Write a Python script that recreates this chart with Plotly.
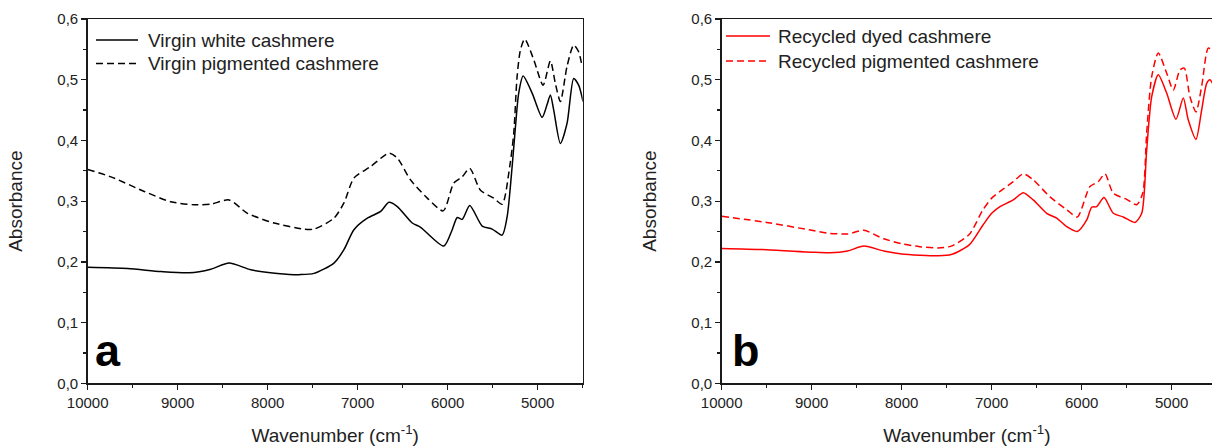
import plotly.graph_objects as go

# ---------------- data ----------------
# Panel a
a_white_x = [10000, 9556, 9187, 8873, 8632, 8429, 8188, 7892, 7633, 7485, 7264, 7153, 7042, 6893,
             6745, 6653, 6560, 6394, 6301, 6043, 5950, 5894, 5839, 5755, 5617, 5506, 5395, 5340,
             5284, 5247, 5211, 5162, 5062, 4951, 4896, 4859, 4822, 4748, 4674, 4600, 4545, 4496]
a_white_y = [0.191, 0.189, 0.184, 0.182, 0.188, 0.198, 0.187, 0.181, 0.179, 0.181, 0.198, 0.220, 0.253, 0.272,
             0.283, 0.298, 0.291, 0.264, 0.257, 0.226, 0.253, 0.273, 0.270, 0.293, 0.259, 0.254, 0.244, 0.274,
             0.357, 0.423, 0.478, 0.506, 0.478, 0.438, 0.459, 0.475, 0.450, 0.395, 0.428, 0.502, 0.491, 0.464]

a_pig_x = [10000, 9741, 9372, 9076, 8817, 8632, 8429, 8225, 7929, 7596, 7485, 7264, 7153, 7042,
           6856, 6653, 6560, 6413, 6227, 6050, 5932, 5839, 5755, 5636, 5488, 5395, 5311, 5266,
           5229, 5192, 5144, 5044, 4940, 4859, 4804, 4748, 4674, 4600, 4545, 4507]
a_pig_y = [0.352, 0.340, 0.316, 0.299, 0.294, 0.295, 0.302, 0.280, 0.264, 0.254, 0.254, 0.272, 0.297, 0.338,
           0.357, 0.379, 0.371, 0.335, 0.305, 0.284, 0.330, 0.340, 0.354, 0.318, 0.305, 0.295, 0.357, 0.412,
           0.505, 0.549, 0.567, 0.533, 0.491, 0.531, 0.494, 0.464, 0.522, 0.557, 0.546, 0.522]

# Panel b
b_dyed_x = [10000, 9500, 9000, 8800, 8600, 8420, 8200, 8000, 7800, 7600, 7450, 7250, 7100, 7000,
            6908, 6760, 6649, 6538, 6389, 6278, 6167, 6049, 5944, 5889, 5833, 5752, 5649, 5538,
            5408, 5333, 5278, 5222, 5149, 5056, 4952, 4871, 4816, 4730, 4667, 4611, 4574, 4540]
b_dyed_y = [0.222, 0.220, 0.216, 0.215, 0.218, 0.226, 0.218, 0.213, 0.211, 0.210, 0.212, 0.228, 0.260, 0.280,
            0.291, 0.302, 0.314, 0.302, 0.280, 0.272, 0.258, 0.250, 0.269, 0.290, 0.291, 0.306, 0.280, 0.274,
            0.265, 0.280, 0.384, 0.472, 0.508, 0.478, 0.435, 0.470, 0.434, 0.402, 0.450, 0.494, 0.500, 0.492]

b_pig_x = [10000, 9500, 9000, 8800, 8600, 8420, 8200, 8000, 7800, 7600, 7450, 7250, 7100, 7000,
           6908, 6760, 6649, 6538, 6352, 6167, 6049, 5908, 5816, 5741, 5649, 5500, 5389, 5322,
           5278, 5222, 5149, 5056, 4982, 4908, 4860, 4797, 4730, 4667, 4593, 4540]
b_pig_y = [0.275, 0.265, 0.252, 0.247, 0.246, 0.252, 0.238, 0.230, 0.225, 0.223, 0.226, 0.245, 0.285, 0.305,
           0.316, 0.332, 0.345, 0.335, 0.307, 0.286, 0.274, 0.324, 0.332, 0.345, 0.313, 0.303, 0.294, 0.313,
           0.412, 0.505, 0.544, 0.511, 0.483, 0.516, 0.519, 0.472, 0.447, 0.489, 0.552, 0.548]

series_names_a = ["Virgin white cashmere", "Virgin pigmented cashmere"]
series_names_b = ["Recycled dyed cashmere", "Recycled pigmented cashmere"]
panel_letters = ["a", "b"]

x_tick_vals = [10000, 9000, 8000, 7000, 6000, 5000]
x_tick_text = ["10000", "9000", "8000", "7000", "6000", "5000"]
y_tick_vals = [0.0, 0.1, 0.2, 0.3, 0.4, 0.5, 0.6]
y_tick_text = ["0,0", "0,1", "0,2", "0,3", "0,4", "0,5", "0,6"]

# ---------------- figure ----------------
W, H = 1212, 448
FONT = "Liberation Sans, Arial, sans-serif"
AX = "#1a1a1a"
TXT = "#222222"
DASH = "7px,4px"
RED = "#ff0000"

fig = go.Figure()

line_w = 1.5
fig.add_trace(go.Scatter(x=a_white_x, y=a_white_y, mode="lines", name=series_names_a[0],
                         line=dict(color="black", width=line_w, shape="spline", smoothing=0.7),
                         xaxis="x", yaxis="y"))
fig.add_trace(go.Scatter(x=a_pig_x, y=a_pig_y, mode="lines", name=series_names_a[1],
                         line=dict(color="black", width=line_w, dash=DASH, shape="spline", smoothing=0.7),
                         xaxis="x", yaxis="y"))
fig.add_trace(go.Scatter(x=b_dyed_x, y=b_dyed_y, mode="lines", name=series_names_b[0],
                         line=dict(color=RED, width=line_w, shape="spline", smoothing=0.7),
                         xaxis="x2", yaxis="y2"))
fig.add_trace(go.Scatter(x=b_pig_x, y=b_pig_y, mode="lines", name=series_names_b[1],
                         line=dict(color=RED, width=line_w, dash=DASH, shape="spline", smoothing=0.7),
                         xaxis="x2", yaxis="y2"))

ydom = [(H - 383.3) / H, (H - 19) / H]
xa_dom = [87.7 / W, 582.7 / W]
xb_dom = [721.7 / W, 1.0]


def xaxis_cfg(dom, rng, anchor):
    return dict(domain=dom, range=rng, anchor=anchor, showgrid=False, zeroline=False, automargin=False,
                showline=True, linecolor=AX, linewidth=1.5, mirror=True,
                ticks="outside", ticklen=5, tickwidth=1.3, tickcolor=AX,
                tickvals=x_tick_vals, ticktext=x_tick_text,
                minor=dict(dtick=500, tick0=0, ticks="outside", ticklen=3, tickwidth=1.3, tickcolor=AX,
                           showgrid=False),
                tickfont=dict(family=FONT, size=15, color=TXT),
                title=dict(text="Wavenumber (cm<sup>-1</sup>)", font=dict(family=FONT, size=19, color=TXT),
                           standoff=19))


def yaxis_cfg(anchor, mirror):
    return dict(domain=ydom, range=[0, 0.6], anchor=anchor, showgrid=False, zeroline=False, automargin=False,
                showline=True, linecolor=AX, linewidth=1.5, mirror=mirror,
                ticks="outside", ticklen=5, tickwidth=1.3, tickcolor=AX,
                tickvals=y_tick_vals, ticktext=y_tick_text,
                minor=dict(dtick=0.05, tick0=0, ticks="outside", ticklen=3, tickwidth=1.3, tickcolor=AX,
                           showgrid=False),
                tickfont=dict(family=FONT, size=15, color=TXT),
                title=dict(text="Absorbance", font=dict(family=FONT, size=19, color=TXT), standoff=29))


# manual legends (sample line + label), positions in pixels converted to paper coords
shapes = []
annotations = []
legend_specs = [
    (96, 138, 146, [40, 63.5], series_names_a, "black"),
    (726, 770, 776, [36, 61], series_names_b, RED),
]
for x0, x1, tx, rows, names, col in legend_specs:
    for i, (ry, nm) in enumerate(zip(rows, names)):
        shapes.append(dict(type="line", xref="paper", yref="paper",
                           x0=x0 / W, x1=x1 / W, y0=(H - ry) / H, y1=(H - ry) / H,
                           line=dict(color=col, width=1.5, dash=None if i == 0 else DASH)))
        annotations.append(dict(text=nm, xref="paper", yref="paper", x=tx / W, y=(H - ry) / H,
                                xanchor="left", yanchor="middle", showarrow=False,
                                font=dict(family=FONT, size=19, color=TXT)))

for letter, lx in zip(panel_letters, [93, 730]):
    annotations.append(dict(text="<b>" + letter + "</b>", xref="paper", yref="paper", x=lx / W,
                            y=(H - 378) / H, xanchor="left", yanchor="bottom", showarrow=False,
                            font=dict(family=FONT, size=45, color="black")))

fig.update_layout(
    width=W, height=H,
    margin=dict(l=0, r=0, t=0, b=0, autoexpand=False),
    paper_bgcolor="white", plot_bgcolor="white",
    font=dict(family=FONT, color=TXT),
    xaxis=xaxis_cfg(xa_dom, [10000, 4500], "y"),
    yaxis=yaxis_cfg("x", True),
    xaxis2=xaxis_cfg(xb_dom, [10000, 4552], "y2"),
    yaxis2=yaxis_cfg("x2", False),
    showlegend=False,
    hovermode=False,
    shapes=shapes,
    annotations=annotations,
)

fig.write_html(
    "out.html",
    config={"displayModeBar": False, "staticPlot": True},
    post_script="document.body.style.margin='0';document.body.style.padding='0';"
                "document.documentElement.style.overflow='hidden';",
)
